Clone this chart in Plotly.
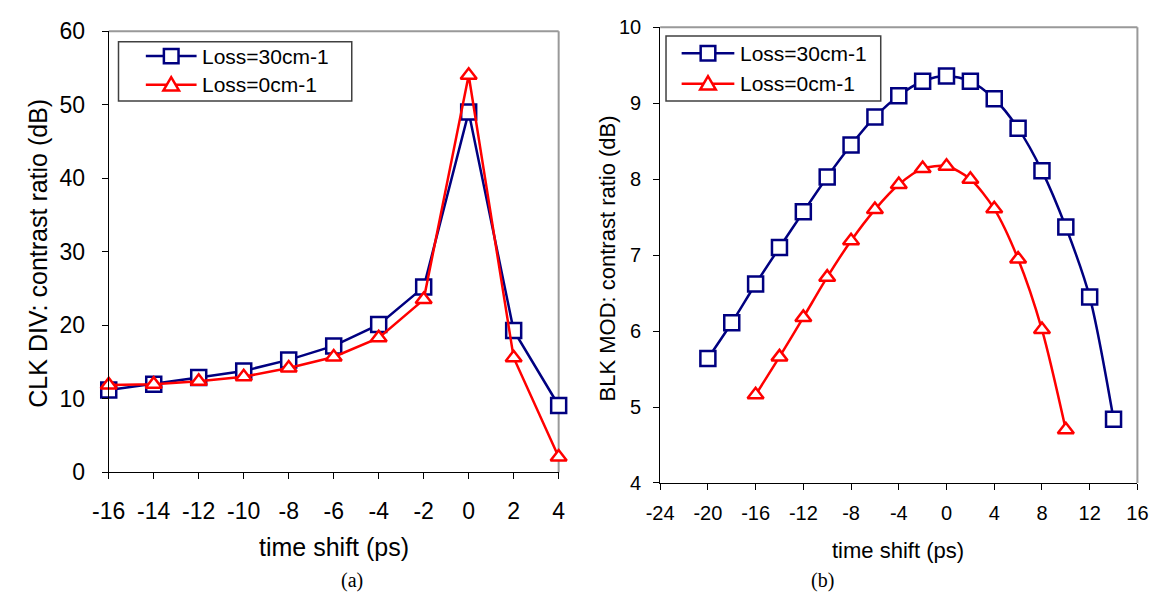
import plotly.graph_objects as go

W, H = 1165, 606

# ---- data (a) CLK DIV ----
a_x = [-16, -14, -12, -10, -8, -6, -4, -2, 0, 2, 4]
a_loss30 = [11.2, 12.0, 12.9, 13.8, 15.3, 17.2, 20.1, 25.2, 49.0, 19.3, 9.1]
a_loss0 = [11.9, 12.0, 12.4, 13.0, 14.2, 15.7, 18.3, 23.5, 54.0, 15.6, 2.1]
a_xticks = [-16, -14, -12, -10, -8, -6, -4, -2, 0, 2, 4]
a_yticks = [0, 10, 20, 30, 40, 50, 60]

# ---- data (b) BLK MOD ----
b_x30 = [-20, -18, -16, -14, -12, -10, -8, -6, -4, -2, 0, 2, 4, 6, 8, 10, 12, 14]
b_loss30 = [5.64, 6.11, 6.62, 7.10, 7.57, 8.03, 8.45, 8.82, 9.10, 9.29, 9.36,
            9.29, 9.06, 8.67, 8.11, 7.37, 6.45, 4.84]
b_x0 = [-16, -14, -12, -10, -8, -6, -4, -2, 0, 2, 4, 6, 8, 10]
b_loss0 = [5.16, 5.66, 6.18, 6.71, 7.19, 7.60, 7.93, 8.14, 8.17, 8.00, 7.61,
           6.95, 6.02, 4.70]
b_xticks = [-24, -20, -16, -12, -8, -4, 0, 4, 8, 12, 16]
b_yticks = [4, 5, 6, 7, 8, 9, 10]

names = ["Loss=30cm-1", "Loss=0cm-1"]
BLUE = "#000080"
RED = "#FF0000"
FONT = "Liberation Sans, Arial, sans-serif"
SERIF = "Liberation Serif, Times New Roman, serif"


def px(x):
    return x / W


def py(y):
    return 1 - y / H


fig = go.Figure()

sq = dict(symbol="square", size=15, color="white", line=dict(color=BLUE, width=2.5))
tri = dict(symbol="triangle-up", size=14, color="white", line=dict(color=RED, width=2.5))

fig.add_trace(go.Scatter(x=a_x, y=a_loss30, mode="lines+markers", name=names[0],
                         line=dict(color=BLUE, width=2.5), marker=sq,
                         xaxis="x", yaxis="y", cliponaxis=False))
fig.add_trace(go.Scatter(x=a_x, y=a_loss0, mode="lines+markers", name=names[1],
                         line=dict(color=RED, width=2.5), marker=tri,
                         xaxis="x", yaxis="y", cliponaxis=False))
fig.add_trace(go.Scatter(x=b_x30, y=b_loss30, mode="lines+markers", name=names[0],
                         line=dict(color=BLUE, width=2.5, shape="spline", smoothing=0.8),
                         marker=sq, xaxis="x2", yaxis="y2", cliponaxis=False))
fig.add_trace(go.Scatter(x=b_x0, y=b_loss0, mode="lines+markers", name=names[1],
                         line=dict(color=RED, width=2.5, shape="spline", smoothing=0.8),
                         marker=tri, xaxis="x2", yaxis="y2", cliponaxis=False))

# plot areas in pixels
A = dict(l=94, r=555, t=19, b=480)
B = dict(l=659, r=1148, t=15, b=491)

axis_common = dict(showgrid=False, zeroline=False, showline=True, linecolor="black",
                   linewidth=1, ticks="outside", ticklen=6, tickcolor="black",
                   tickwidth=1, mirror=False, tickmode="array")


def lbl(vals):
    return [str(v) for v in vals]


fig.update_layout(
    width=W, height=H, margin=dict(l=0, r=0, t=0, b=0),
    paper_bgcolor="white", plot_bgcolor="white",
    font=dict(family=FONT, color="black"),
    showlegend=False,
    xaxis=dict(domain=[px(A["l"]), px(A["r"])], range=[-16, 4],
               tickvals=a_xticks, ticktext=lbl(a_xticks),
               anchor="y", tickfont=dict(size=23), ticklabelstandoff=12, **axis_common),
    yaxis=dict(domain=[py(A["b"]), py(A["t"])], range=[0, 60],
               tickvals=a_yticks, ticktext=lbl(a_yticks),
               anchor="x", tickfont=dict(size=23), ticklabelstandoff=12, **axis_common),
    xaxis2=dict(domain=[px(B["l"]), px(B["r"])], range=[-24, 16],
                tickvals=b_xticks, ticktext=lbl(b_xticks),
                anchor="y2", tickfont=dict(size=20), ticklabelstandoff=6, **axis_common),
    yaxis2=dict(domain=[py(B["b"]), py(B["t"])], range=[4, 10],
                tickvals=b_yticks, ticktext=lbl(b_yticks),
                anchor="x2", tickfont=dict(size=20), ticklabelstandoff=8, **axis_common),
)

# gray frame on top/right
for xr, yr in (("x domain", "y domain"), ("x2 domain", "y2 domain")):
    fig.add_shape(type="line", xref=xr, yref=yr, x0=0, x1=1, y0=1, y1=1,
                  line=dict(color="#999999", width=2), layer="below")
    fig.add_shape(type="line", xref=xr, yref=yr, x0=1, x1=1, y0=0, y1=1,
                  line=dict(color="#999999", width=2), layer="below")


# ---- legends (drawn as boxes with line/marker samples) ----
def legend(box, line_x, text_x, rows):
    l, t, r, b = box
    fig.add_shape(type="rect", xref="paper", yref="paper",
                  x0=px(l), x1=px(r), y0=py(b), y1=py(t),
                  line=dict(color="#404040", width=1.5), fillcolor="white", layer="above")
    x0, x1 = line_x
    xm = (x0 + x1) / 2
    for (yy, color, kind, name) in rows:
        fig.add_shape(type="line", xref="paper", yref="paper",
                      x0=px(x0), x1=px(x1), y0=py(yy), y1=py(yy),
                      line=dict(color=color, width=2.5), layer="above")
        if kind == "square":
            fig.add_shape(type="rect", xref="paper", yref="paper",
                          x0=px(xm - 7.5), x1=px(xm + 7.5), y0=py(yy + 7.5), y1=py(yy - 7.5),
                          line=dict(color=color, width=2.5), fillcolor="white", layer="above")
        else:
            path = "M {:.5f},{:.5f} L {:.5f},{:.5f} L {:.5f},{:.5f} Z".format(
                px(xm - 8), py(yy + 6), px(xm + 8), py(yy + 6), px(xm), py(yy - 8))
            fig.add_shape(type="path", xref="paper", yref="paper", path=path,
                          line=dict(color=color, width=2.5), fillcolor="white", layer="above")
        fig.add_annotation(text=name, x=px(text_x), y=py(yy), xref="paper", yref="paper",
                           showarrow=False, xanchor="left", yanchor="middle",
                           font=dict(size=21, family=FONT, color="black"))


legend((104, 30, 343, 92), (132, 184), 188,
       [(45, BLUE, "square", names[0]), (75, RED, "tri", names[1])])
legend((665, 24, 885, 92), (681, 735), 739,
       [(42, BLUE, "square", names[0]), (74, RED, "tri", names[1])])

annots = [
    dict(text="time shift (ps)", x=px(325), y=py(558), size=25, angle=0, fam=FONT),
    dict(text="time shift (ps)", x=px(903), y=py(562), size=22, angle=0, fam=FONT),
    dict(text="CLK DIV: contrast ratio (dB)", x=px(22), y=py(251), size=25, angle=-90, fam=FONT),
    dict(text="BLK MOD: contrast ratio (dB)", x=px(605), y=py(256), size=22, angle=-90, fam=FONT),
    dict(text="(a)", x=px(343), y=py(593), size=20, angle=0, fam=SERIF),
    dict(text="(b)", x=px(825), y=py(593), size=20, angle=0, fam=SERIF),
]
for a in annots:
    fig.add_annotation(text=a["text"], x=a["x"], y=a["y"], xref="paper", yref="paper",
                       showarrow=False, textangle=a["angle"], xanchor="center",
                       yanchor="middle", font=dict(size=a["size"], family=a["fam"], color="black"))

fig.write_html("out.html")
